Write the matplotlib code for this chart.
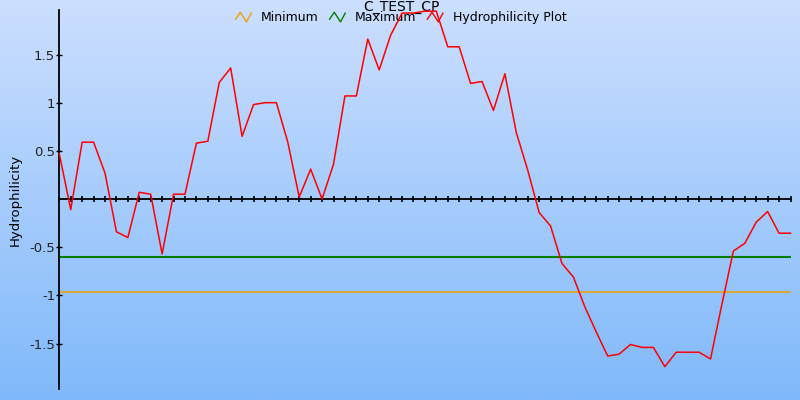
import numpy as np
import matplotlib
matplotlib.use("Agg")
import matplotlib.pyplot as plt
from matplotlib.lines import Line2D
from matplotlib.legend_handler import HandlerBase
from matplotlib.colors import LinearSegmentedColormap

plt.rcParams['font.family'] = ['DejaVu Sans']

title = "C_TEST_CP"
y_label = "Hydrophilicity"
series_names = ["Minimum", "Maximum", "Hydrophilicity Plot"]
series_colors = ["#F0A000", "#008000", "#FF0000"]
minimum_value = -0.96
maximum_value = -0.60
hydrophilicity = [
    0.47, -0.11, 0.59, 0.59, 0.27, -0.34, -0.40, 0.07, 0.05, -0.57,
    0.05, 0.05, 0.58, 0.60, 1.21, 1.36, 0.65, 0.98, 1.00, 1.00,
    0.59, 0.02, 0.31, 0.00, 0.36, 1.07, 1.07, 1.66, 1.34, 1.70,
    1.93, 1.93, 1.95, 1.95, 1.58, 1.58, 1.20, 1.22, 0.92, 1.30,
    0.69, 0.30, -0.14, -0.28, -0.67, -0.81, -1.12, -1.38, -1.63, -1.61,
    -1.51, -1.54, -1.54, -1.74, -1.59, -1.59, -1.59, -1.66, -1.09, -0.54,
    -0.46, -0.24, -0.13, -0.355, -0.355,
]
y_ticks = [-1.5, -1.0, -0.5, 0.5, 1.0, 1.5]
y_tick_labels = ["-1.5", "-1", "-0.5", "0.5", "1", "1.5"]

W, H = 800, 400
fig = plt.figure(figsize=(W / 100, H / 100), dpi=100)

# background gradient
bg = fig.add_axes([0, 0, 1, 1], zorder=-10)
cmap = LinearSegmentedColormap.from_list("bg", ["#CCDFFF", "#80B9FA"])
bg.imshow(np.linspace(0, 1, 256).reshape(-1, 1), aspect="auto", cmap=cmap,
          extent=[0, 1, 0, 1])
bg.set_axis_off()

left, right, top, bottom = 59.3, 790.5, 10, 389.3
ax = fig.add_axes([left / W, 1 - bottom / H, (right - left) / W, (bottom - top) / H])
ax.patch.set_alpha(0)

x = np.arange(len(hydrophilicity))
ax.axhline(minimum_value, color=series_colors[0], lw=1.1, zorder=2)
ax.axhline(maximum_value, color=series_colors[1], lw=1.5, zorder=2)
ax.plot(x, hydrophilicity, color=series_colors[2], lw=1.1, zorder=6, clip_on=False)

ax.set_xlim(0, len(hydrophilicity) - 1)
ax.set_ylim(-1.975, 1.962)

for s in ["top", "right"]:
    ax.spines[s].set_visible(False)
ax.spines["bottom"].set_position(("data", 0))
ax.spines["bottom"].set_linewidth(1.3)
ax.spines["left"].set_linewidth(1.3)

ax.set_xticks(x)
ax.tick_params(axis="x", direction="inout", length=4, width=1.2, labelbottom=False)
ax.set_yticks(y_ticks)
ax.set_yticklabels(y_tick_labels)
ax.tick_params(axis="y", direction="inout", length=4, width=1, labelsize=9.5,
               pad=1, labelcolor="#222222")

ax.set_ylabel(y_label, fontsize=9.5)
ax.yaxis.set_label_coords(-0.052, 0.5)

ax.text(0.4675, 1 + (top - 0.5) / (bottom - top), title, transform=ax.transAxes,
        ha="center", va="top", fontsize=10, zorder=1, clip_on=False)


class HandlerZigzag(HandlerBase):
    def create_artists(self, legend, orig_handle, xdescent, ydescent, width,
                       height, fontsize, trans):
        xs = np.array([0.0, 0.3, 0.7, 1.0]) * width - xdescent
        ys = (np.array([0.2, 1.0, -0.1, 0.9]) * height * 1.0) - ydescent
        line = Line2D(xs, ys, color=orig_handle.get_color(), lw=1.0)
        line.set_transform(trans)
        return [line]


handles = [Line2D([], [], color=c) for c in series_colors]
leg = ax.legend(handles, series_names, loc="center",
                bbox_to_anchor=(0.4675, (bottom - 17.5) / (bottom - top)),
                ncol=3, frameon=False, fontsize=9, handlelength=1.25,
                handletextpad=0.8, columnspacing=0.85, borderpad=0,
                handler_map={Line2D: HandlerZigzag()})
leg.set_zorder(1)

fig.savefig("out.png", dpi=100)
